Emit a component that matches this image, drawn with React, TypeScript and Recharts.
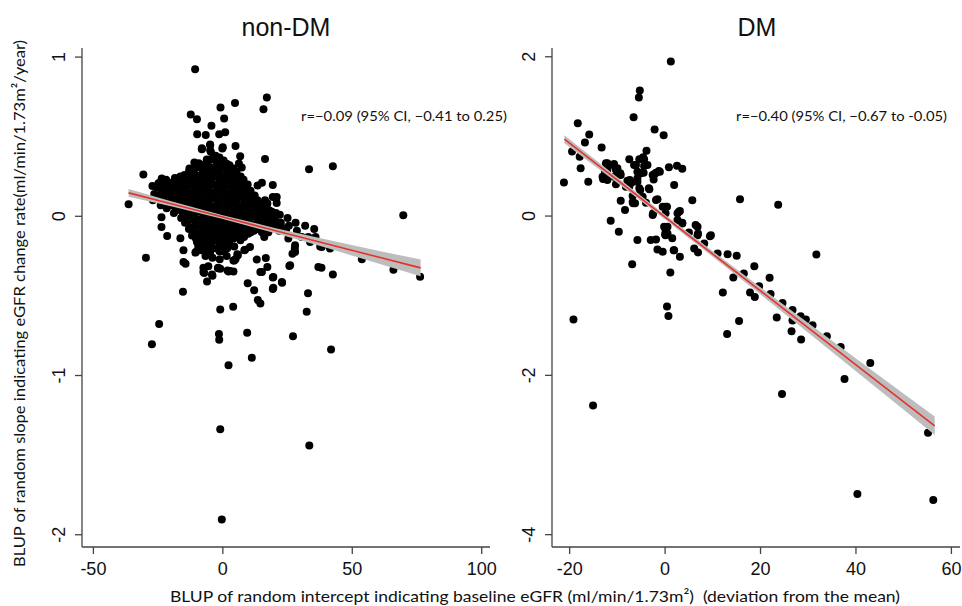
import React from 'react';
import { ComposedChart, Scatter, Line, Area, XAxis, YAxis } from 'recharts';

// BLUP intercept (x) vs BLUP slope (y)
const nonDmPoints: [number, number][] = [
  // sparse / outlying points
  [-10.7, 0.923], [17.0, 0.746], [15.7, 0.673], [4.7, 0.711], [-0.9, 0.684], [-12.4, 0.64], [-10.0, 0.61],
  [0.5, 0.614], [-4.4, 0.568], [-9.9, 0.516], [-6.6, 0.511], [-1.4, 0.516], [0.9, 0.528], [-8.1, 0.428],
  [-4.9, 0.447], [0, 0.434], [4.9, 0.442], [-4.6, 0.404], [6.7, 0.377], [16.3, 0.36], [6.2, 0.331],
  [-6.2, 0.357], [-9.3, 0.333], [-11, 0.338], [33.3, 0.296], [42.5, 0.314], [69.7, 0.006], [-36.4, 0.075],
  [-30.7, 0.262], [-29.7, -0.26], [76.2, -0.38], [65.9, -0.335], [53.7, -0.27], [42.5, -0.365], [38.1, -0.323],
  [32.9, -0.484], [-15.4, -0.474], [-14.4, -0.298], [-21.5, -0.124], [-23.7, -0.067], [-23.7, -0.006],
  [-16.4, -0.138], [9.6, -0.42], [12.1, -0.465], [19.5, -0.449], [22.9, -0.417], [19.3, -0.384], [25.7, -0.312],
  [26.9, -0.235], [27.8, -0.203], [16.6, -0.262], [13.1, -0.272], [17.2, -0.319], [15.1, -0.35], [2.8, -0.344],
  [1.8, -0.34], [-1.8, -0.323], [-7.2, -0.356], [-4, -0.373], [-6.1, -0.409], [4.9, -0.27], [8.6, -0.21],
  [5.8, -0.245], [-10.3, -0.222], [11.3, 0.10], [13.4, 0.193], [15.1, 0.21], [19.3, 0.197], [20.6, 0.111],
  [19.3, 0.121], [20.8, 0.084], [17, 0.082], [18.8, -0.006], [21.9, -0.05], [24.4, -0.088], [10.5, -0.193],
  [-1.0, -0.585], [4.0, -0.568], [13.5, -0.526], [14.5, -0.547], [32.4, -0.6], [-24.6, -0.677], [-27.4, -0.803],
  [-1.5, -0.74], [-1.4, -0.776], [9.4, -0.732], [27.1, -0.753], [41.8, -0.836], [11.2, -0.889], [2.2, -0.935],
  [-1.0, -1.338], [33.4, -1.44], [-0.4, -1.904],
  [-10.6, -0.228], [-7.5, -0.172], [-5.6, -0.224], [-1.9, -0.327], [7.3, 0.306], [0.9, 0.258], [5.1, 0.237],
  [11.2, 0.10], [17.2, 0.08], [18.9, 0.002], [20.8, 0.121], [-8.1, 0.421], [-4.9, 0.451], [-4.9, 0.415],
  [-0.2, 0.426], [-2.3, 0.357], [-12.9, 0.30], [-12.6, 0.247], [-8.1, 0.258], [-16.9, 0.231], [-23.6, 0.237],
  [-24.9, 0.206], [-25.5, 0.184], [-21, 0.184], [-18.4, 0.153], [-14.6, 0.206], [-9.4, 0.216],
  [-1, -0.33], [2.2, -0.346], [4.1, -0.346], [19.3, -0.456], [14.5, -0.35], [8.3, -0.214], [4.4, -0.277],
  [24, -0.077], [27.9, -0.224], [26, -0.307], [-15.2, -0.287], [-7.5, -0.323], [-4.2, -0.365], [4.1, -0.277],
  [5.6, -0.239], [19.5, -0.382], [22.8, -0.413], [-7.5, -0.35], [-5.6, -0.314], [-10, -0.162], [-8.1, -0.214],
  [-4.9, -0.224], [-15.2, -0.214], [20.8, -0.046], [25.3, -0.14], [27.9, -0.182], [30.5, -0.13], [33.7, -0.162],
  [38.2, -0.193], [41.4, -0.203], [36.9, -0.319], [18.3, 0.006], [21.2, -0.042], [16.3, 0.1],
  // dense core
  [-27.2, 0.19], [-26.5, 0.14], [-27.0, 0.10],
  [-24.5, 0.21], [-23.8, 0.16], [-24.3, 0.12], [-24.0, 0.07],
  [-21.9, 0.23], [-21.2, 0.18], [-21.6, 0.14], [-21.0, 0.09], [-21.7, 0.05],
  [-18.5, 0.24], [-19.1, 0.20], [-18.6, 0.15], [-19.0, 0.11], [-18.4, 0.06], [-18.9, 0.02],
  [-16.4, 0.25], [-15.8, 0.21], [-16.2, 0.16], [-15.9, 0.12], [-16.5, 0.08], [-15.7, 0.03], [-16.1, -0.01],
  [-13.1, 0.28], [-13.7, 0.23], [-13.3, 0.19], [-13.6, 0.14], [-13.0, 0.10], [-13.8, 0.06], [-13.2, 0.01],
  [-13.5, -0.03], [-13.1, -0.08],
  [-10.9, 0.30], [-10.4, 0.26], [-10.8, 0.22], [-10.5, 0.17], [-11.0, 0.13], [-10.6, 0.08], [-10.3, 0.04],
  [-10.8, -0.01], [-10.5, -0.05], [-10.9, -0.09], [-10.4, -0.14],
  [-8.2, 0.32], [-7.8, 0.28], [-8.1, 0.23], [-7.7, 0.19], [-8.3, 0.14], [-7.9, 0.10], [-8.0, 0.06], [-7.6, 0.01],
  [-8.2, -0.03], [-7.8, -0.08], [-8.1, -0.12], [-7.7, -0.16], [-8.0, -0.21],
  [-5.5, 0.35], [-5.0, 0.31], [-5.4, 0.26], [-5.1, 0.22], [-5.6, 0.18], [-5.2, 0.13], [-5.4, 0.09], [-4.9, 0.04],
  [-5.3, 0.00], [-5.0, -0.04], [-5.5, -0.09], [-5.2, -0.13], [-5.4, -0.18], [-5.1, -0.23],
  [-2.8, 0.38], [-2.4, 0.33], [-2.7, 0.29], [-2.3, 0.25], [-2.9, 0.20], [-2.5, 0.16], [-2.6, 0.11], [-2.2, 0.07],
  [-2.8, 0.03], [-2.4, -0.02], [-2.7, -0.06], [-2.3, -0.11], [-2.6, -0.15], [-2.5, -0.20],
  [0.3, 0.35], [-0.1, 0.31], [0.2, 0.26], [-0.2, 0.22], [0.4, 0.18], [0.0, 0.13], [0.2, 0.09], [-0.1, 0.04],
  [0.3, 0.00], [0.0, -0.04], [0.2, -0.09], [-0.2, -0.13], [0.1, -0.18], [0.3, -0.22],
  [2.6, 0.32], [3.0, 0.28], [2.7, 0.23], [3.1, 0.19], [2.5, 0.14], [2.9, 0.10], [2.6, 0.06], [3.0, 0.01],
  [2.7, -0.03], [3.1, -0.08], [2.8, -0.12], [2.5, -0.17],
  [5.3, 0.28], [5.8, 0.23], [5.4, 0.19], [5.7, 0.14], [5.2, 0.10], [5.6, 0.06], [5.4, 0.01], [5.9, -0.03],
  [5.3, -0.08], [5.6, -0.12],
  [8.0, 0.23], [8.5, 0.18], [8.1, 0.14], [8.4, 0.09], [7.9, 0.05], [8.3, 0.00], [8.0, -0.04], [8.6, -0.08], [8.2, -0.13],
  [10.7, 0.16], [11.2, 0.12], [10.8, 0.07], [11.1, 0.03], [10.6, -0.01], [11.0, -0.06], [10.8, -0.10],
  [13.4, 0.10], [13.9, 0.06], [13.5, 0.01], [13.8, -0.03], [13.3, -0.08],
  [16.1, 0.06], [16.6, 0.01], [16.2, -0.03], [16.5, -0.08], [16.0, -0.13],
  [18.8, 0.03], [19.3, -0.02], [19.0, -0.06], [22.0, 0.01], [22.4, -0.04], [21.8, -0.09],
  [25.0, -0.01], [25.5, -0.06], [28.1, -0.04], [28.6, -0.09], [31.8, -0.06], [33.0, -0.13],
  [35.3, -0.08], [35.8, -0.13], [37.6, -0.19],
  // staggered fill of the core
  [-23.0, 0.19], [-23.2, 0.14], [-22.8, 0.10],
  [-20.0, 0.21], [-20.3, 0.16], [-19.8, 0.12], [-20.1, 0.07],
  [-17.5, 0.22], [-17.3, 0.18], [-17.7, 0.13], [-17.4, 0.09], [-17.6, 0.04],
  [-14.8, 0.26], [-14.6, 0.23], [-15.0, 0.18], [-14.7, 0.14], [-14.9, 0.10], [-14.5, 0.05], [-14.8, 0.01], [-14.6, -0.04],
  [-12.0, 0.27], [-12.2, 0.24], [-11.8, 0.20], [-12.1, 0.15], [-11.9, 0.11], [-12.3, 0.06], [-12.0, 0.02],
  [-11.7, -0.02], [-12.1, -0.07], [-11.9, -0.12],
  [-9.3, 0.31], [-9.1, 0.25], [-9.5, 0.20], [-9.2, 0.16], [-9.4, 0.12], [-9.0, 0.07], [-9.3, 0.03], [-9.6, -0.02],
  [-9.2, -0.06], [-9.4, -0.11], [-9.1, -0.16], [-9.5, -0.19],
  [-6.7, 0.33], [-6.5, 0.29], [-6.9, 0.24], [-6.6, 0.20], [-6.8, 0.16], [-6.4, 0.11], [-6.7, 0.07], [-6.9, 0.03],
  [-6.5, -0.02], [-6.8, -0.06], [-6.6, -0.10], [-6.9, -0.15], [-6.5, -0.19], [-6.7, -0.25],
  [-4.0, 0.36], [-3.8, 0.28], [-4.2, 0.24], [-3.9, 0.20], [-4.1, 0.15], [-3.7, 0.11], [-4.0, 0.06], [-4.2, 0.02],
  [-3.8, -0.02], [-4.1, -0.07], [-3.9, -0.11], [-4.2, -0.16], [-3.8, -0.20], [-4.0, -0.26],
  [-1.3, 0.37], [-1.1, 0.31], [-1.5, 0.27], [-1.2, 0.23], [-1.4, 0.18], [-1.0, 0.14], [-1.3, 0.09], [-1.5, 0.05],
  [-1.1, 0.01], [-1.4, -0.04], [-1.2, -0.08], [-1.5, -0.13], [-1.1, -0.17], [-1.3, -0.22], [-1.2, -0.27],
  [1.5, 0.33], [1.7, 0.29], [1.3, 0.24], [1.6, 0.20], [1.4, 0.15], [1.8, 0.11], [1.5, 0.07], [1.3, 0.02],
  [1.7, -0.02], [1.4, -0.07], [1.6, -0.11], [1.3, -0.15], [1.7, -0.20], [1.5, -0.25],
  [4.2, 0.30], [4.0, 0.25], [4.4, 0.21], [4.1, 0.16], [4.3, 0.12], [3.9, 0.08], [4.2, 0.03], [4.4, -0.01],
  [4.0, -0.06], [4.3, -0.10], [4.1, -0.14], [4.4, -0.19],
  [6.9, 0.25], [7.1, 0.20], [6.7, 0.16], [7.0, 0.12], [6.8, 0.07], [7.2, 0.03], [6.9, -0.01], [6.7, -0.06],
  [7.1, -0.10], [6.8, -0.15],
  [9.6, 0.20], [9.4, 0.15], [9.8, 0.11], [9.5, 0.07], [9.7, 0.02], [9.3, -0.02], [9.6, -0.06], [9.8, -0.11],
  [12.3, 0.13], [12.1, 0.09], [12.5, 0.04], [12.2, 0.00], [12.4, -0.05], [12.0, -0.09],
  [15.0, 0.08], [14.8, 0.03], [15.2, -0.01], [14.9, -0.06], [15.1, -0.10],
  [17.7, 0.04], [17.5, 0.00], [17.9, -0.05], [17.6, -0.10],
  [20.5, 0.02], [20.3, -0.03], [20.7, -0.07],
];

const dmPoints: [number, number][] = [
  [1.2, 1.94], [-5.3, 1.576], [-5.5, 1.49], [-6.6, 1.24], [-18.3, 1.166], [-15.9, 1.023], [-16.8, 0.922],
  [-2.2, 1.086], [-0.3, 1.015], [-13.3, 0.86], [-19.5, 0.81], [-17.9, 0.746], [-17.7, 0.6], [-21.2, 0.42],
  [-16.1, 0.432], [-12.4, 0.663], [-12.1, 0.58], [-10.7, 0.654], [-10.3, 0.58], [-9.4, 0.537], [-13, 0.465],
  [-12.1, 0.453], [-10.3, 0.4], [-7.5, 0.713], [-6.5, 0.64], [-4.4, 0.713], [-3.9, 0.82], [-3.7, 0.64],
  [-5.8, 0.557], [-4.5, 0.545], [-2.2, 0.528], [-1.1, 0.557], [-2.4, 0.46], [0.8, 0.612], [2.5, 0.633],
  [3.6, 0.595], [1.9, 0.39], [-7.9, 0.444], [-7, 0.42], [-5.8, 0.43], [-7.5, 0.37], [-5.2, 0.327], [-3.3, 0.336],
  [-9.3, 0.193], [-6.8, 0.176], [-6.3, 0.16], [-8.4, 0.075], [-4, 0.167], [-1.6, 0.21], [-2.6, 0.013],
  [0.4, 0.117], [2.6, 0.034], [3.1, 0.063], [5.7, 0.2], [15.7, 0.21], [23.7, 0.142], [31.7, -0.482],
  [-11.4, -0.059], [-9.7, -0.197], [-5.8, -0.302], [-3, -0.3], [-1.9, -0.293], [-1.6, -0.419], [-0.5, -0.449],
  [1.8, -0.428], [3.1, -0.512], [1.5, -0.28], [0, -0.23], [0.5, -0.134], [3.6, -0.084], [5, -0.205],
  [6.8, -0.134], [6.9, -0.218], [6.1, -0.406], [6.9, -0.457], [9.4, -0.252], [11, -0.469], [13.1, -0.478],
  [15, -0.499], [-6.9, -0.604], [1.1, -0.709], [14.3, -0.771], [16.5, -0.721], [18.7, -0.629], [21.9, -0.776],
  [12.1, -0.96], [17.8, -0.96], [18.8, -1.015], [19.7, -0.88], [22.1, -0.98],
  [-19.2, -1.3], [-15.1, -2.38], [0.4, -1.136], [0.7, -1.254], [13, -1.48], [15.5, -1.317], [23.4, -1.275],
  [26.5, -1.447], [28.5, -1.551], [24.5, -2.235], [37.6, -2.046], [43, -1.845], [40.3, -3.49], [55.1, -2.72],
  [56.2, -3.564], [24.6, -1.09], [26.7, -1.18], [28.4, -1.258], [29.5, -1.3], [30.9, -1.37], [33.9, -1.51],
  [36.8, -1.644], [26.7, -1.31], [8.2, -0.344], [9.6, -0.24],
  [-5.4, 0.713], [-4.6, 0.738], [-6.1, 0.642], [-4.4, 0.629], [-2.6, 0.516], [-1.9, 0.545], [-1.3, 0.566],
  [-7.4, 0.453], [-5.8, 0.474], [-5.1, 0.537], [-8.2, 0.369], [-5.4, 0.348], [-3.4, 0.348], [-6.7, 0.16],
  [-4.7, 0.243], [-6.8, 0.252], [-1.9, 0.201], [-2.5, 0.034], [-0.5, 0.117], [0.1, 0.034], [2.9, 0.054],
  [2.6, -0.05], [-0.2, -0.135], [0.5, -0.218], [3.6, -0.092], [6.4, -0.113], [6.8, -0.24],
  [-12.1, 0.663], [-10.9, 0.642], [-10, 0.6], [-10.7, 0.494], [-9.3, 0.516], [-12.4, 0.474], [-13.1, 0.494],
  [-12.6, 0.557], [0.1, 0.117], [0.1, -0.197], [0.1, -0.24], [1.9, -0.428],
];

// fitted line with 95% CI: x, fit, lower, upper
const nonDmFit = [
  [-36.4, 0.147, 0.123, 0.171],
  [-20, 0.079, 0.063, 0.095],
  [0, -0.005, -0.017, 0.007],
  [20, -0.089, -0.105, -0.073],
  [40, -0.172, -0.198, -0.146],
  [60, -0.256, -0.296, -0.216],
  [76.4, -0.324, -0.376, -0.272],
];
const dmFit = [
  [-21.1, 0.965, 0.915, 1.015],
  [-10, 0.451, 0.416, 0.486],
  [0, -0.013, -0.043, 0.017],
  [10, -0.477, -0.512, -0.442],
  [20, -0.94, -0.985, -0.895],
  [30, -1.404, -1.464, -1.344],
  [40, -1.868, -1.948, -1.788],
  [50, -2.332, -2.432, -2.232],
  [56.5, -2.633, -2.748, -2.518],
];

const nonDmXTicks = [-50, 0, 50, 100];
const nonDmYTicks = [-2, -1, 0, 1];
const dmXTicks = [-20, 0, 20, 40, 60];
const dmYTicks = [-4, -2, 0, 2];

const AXIS = '#444';
const TICK_FONT = '"Liberation Sans", Arial, sans-serif';
const LABEL_FONT = 'Lato, "Open Sans", sans-serif';

const Dot = (p: any) => <circle cx={p.cx} cy={p.cy} r={4} fill="#000" />;

const YTick = ({ x, y, payload }: any) => (
  <text x={x - 8} y={y} transform={`rotate(-90, ${x - 8}, ${y})`} textAnchor="middle"
    fontSize={18} fontFamily={TICK_FONT} fill="#111">{payload.value}</text>
);

function Panel({ points, fit, xDomain, yDomain, xTicks, yTicks, width, yAxisWidth, right }: any) {
  const pts = points.map(([x, y]: number[]) => ({ x, y }));
  const rows = fit.map(([x, f, lo, hi]: number[]) => ({ x, fit: f, lo, hi }));
  const margin = { top: 48, right, left: 0, bottom: 29 };
  return (
    <div style={{ position: 'relative', width, height: 606 }}>
      {/* points with axes */}
      <div style={{ position: 'absolute', left: 0, top: 0 }}>
        <ComposedChart width={width} height={606} data={rows} margin={margin}>
          <XAxis type="number" dataKey="x" domain={xDomain} ticks={xTicks} allowDataOverflow
            height={30} tickSize={7} tickMargin={8} stroke={AXIS} strokeWidth={1.3}
            tick={{ fontSize: 18, fontFamily: TICK_FONT, fill: '#111' }} />
          <YAxis type="number" dataKey="y" domain={yDomain} ticks={yTicks} allowDataOverflow
            width={yAxisWidth} tickSize={7} tickMargin={2} stroke={AXIS} strokeWidth={1.3} tick={<YTick />} />
          <Scatter data={pts} dataKey="y" shape={Dot} isAnimationActive={false} />
        </ComposedChart>
      </div>
      {/* CI band and fitted line drawn over the points */}
      <div style={{ position: 'absolute', left: 0, top: 0 }}>
        <ComposedChart width={width} height={606} data={rows} margin={margin}>
          <XAxis type="number" dataKey="x" domain={xDomain} ticks={xTicks} allowDataOverflow
            height={30} axisLine={false} tickLine={false} tick={false} />
          <YAxis type="number" domain={yDomain} ticks={yTicks} allowDataOverflow
            width={yAxisWidth} axisLine={false} tickLine={false} tick={false} />
          <Area dataKey={(d: any) => [d.lo, d.hi]} type="linear" fill="#bdbdbd" fillOpacity={1}
            stroke="none" isAnimationActive={false} />
          <Line dataKey="fit" type="linear" stroke="#e8302a" strokeWidth={1.6} dot={false}
            isAnimationActive={false} />
        </ComposedChart>
      </div>
    </div>
  );
}

export default function App() {
  return (
    <div style={{ position: 'absolute', left: 0, top: 0, width: 962, height: 606, background: '#fff' }}>
      <div style={{ position: 'absolute', left: 0, top: 0 }}>
        <Panel points={nonDmPoints} fit={nonDmFit} xDomain={[-54.4, 103.2]} yDomain={[-2.077, 1.057]}
          xTicks={nonDmXTicks} yTicks={nonDmYTicks} width={500} yAxisWidth={82} right={10} />
      </div>
      <div style={{ position: 'absolute', left: 480, top: 0 }}>
        <Panel points={dmPoints} fit={dmFit} xDomain={[-23.7, 61.8]} yDomain={[-4.155, 2.11]}
          xTicks={dmXTicks} yTicks={dmYTicks} width={482} yAxisWidth={72} right={2} />
      </div>
      <svg width={962} height={606} style={{ position: 'absolute', left: 0, top: 0, pointerEvents: 'none' }}>
        <text x={286} y={36} textAnchor="middle" fontSize={25} fontFamily={TICK_FONT} fill="#111">non-DM</text>
        <text x={757} y={36} textAnchor="middle" fontSize={25} fontFamily={TICK_FONT} fill="#111">DM</text>
        <text x={301} y={121} fontSize={14} fontFamily={LABEL_FONT} fill="#111"
          textLength={206} lengthAdjust="spacingAndGlyphs">r=−0.09 (95% CI, −0.41 to 0.25)</text>
        <text x={736} y={121} fontSize={14} fontFamily={LABEL_FONT} fill="#111"
          textLength={211} lengthAdjust="spacingAndGlyphs">r=−0.40 (95% CI, −0.67 to -0.05)</text>
        <text x={170} y={602} fontSize={16} fontFamily={LABEL_FONT} fill="#111" style={{ whiteSpace: 'pre' }}
          textLength={730} lengthAdjust="spacingAndGlyphs">BLUP of random intercept indicating baseline eGFR (ml/min/1.73m²)  (deviation from the mean)</text>
        <text x={25} y={567} transform="rotate(-90, 25, 567)" fontSize={16} fontFamily={LABEL_FONT} fill="#111"
          textLength={527} lengthAdjust="spacingAndGlyphs">BLUP of random slope indicating eGFR change rate(ml/min/1.73m²/year)</text>
      </svg>
    </div>
  );
}
